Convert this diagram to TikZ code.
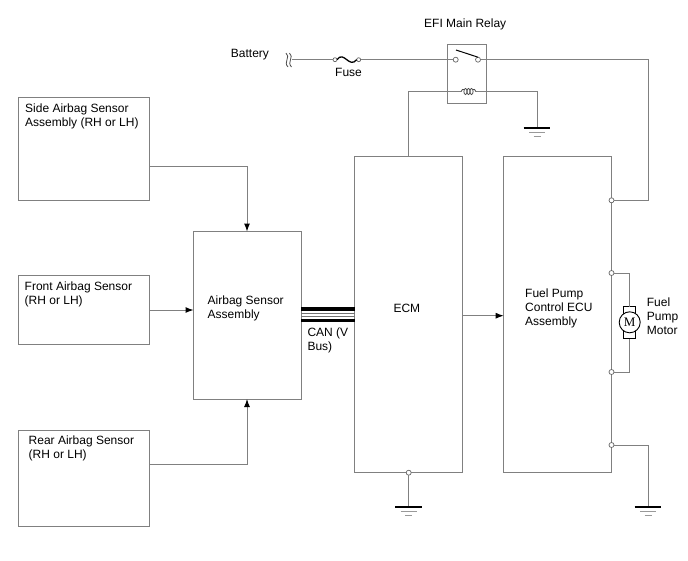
\documentclass[tikz,border=0pt]{standalone}
\usepackage{fontspec}
\setmainfont{Liberation Sans}
\newfontfamily\motorfont{Liberation Serif}
\usetikzlibrary{arrows.meta,calc}
\tikzset{
         wire/.style={draw=black!50,line width=1pt},
         sig/.style={wire,-{Latex[black,length=8pt,width=6pt]}},
         block/.style={draw=black!50,line width=1pt,fill=white,inner sep=0pt,outer sep=0pt,anchor=north west},
         lab/.style={inner sep=0pt,align=left,anchor=north west,font=\fontsize{12}{14}\selectfont},
         pin/.style={circle,draw=black!60,fill=white,line width=0.7pt,inner sep=0pt,outer sep=0pt,minimum size=5pt},
         brush/.style={draw=black,fill=white,line width=0.9pt,inner sep=0pt,outer sep=0pt,minimum width=12pt,minimum height=8pt},
         bar/.style={line width=1.3pt,black},
         gbar/.style={line width=1pt,black!40},
         can/.style={line width=3.2pt,black},
         canthin/.style={line width=0.7pt,black!55}
        }
\begin{document}
\begin{tikzpicture}[x=1pt,y=-1pt]
\useasboundingbox (0,0) rectangle (688,560);

%%% Boxes on left of page

\node[block,minimum width=130.5pt,minimum height=102.5pt] (side) at (18.5,97.5) {};
\node[block,minimum width=130.5pt,minimum height=68.5pt] (front) at (18.5,275.5) {};
\node[block,minimum width=130.5pt,minimum height=95.5pt] (rear) at (18.5,430.5) {};
\node[block,minimum width=107.5pt,minimum height=167.5pt] (airbag) at (193.5,231.5) {};
\node[lab] (sidelab) at (25,104) {Side Airbag Sensor\\Assembly (RH or LH)};
\node[lab] (frontlab) at (24.5,281.5) {Front Airbag Sensor\\(RH or LH)};
\node[lab] (rearlab) at (28.5,436) {Rear Airbag Sensor\\(RH or LH)};
\node[lab] (airbaglab) at (207.5,296) {Airbag Sensor\\Assembly};

%%% Boxes on right of page

\node[block,minimum width=107.5pt,minimum height=316pt] (ecm) at (354.7,156.7) {};
\node[block,minimum width=107.8pt,minimum height=316pt] (ecu) at (503.7,156.7) {};
\node[lab] (ecmlab) at (393.3,304) {ECM};
\node[lab] (eculab) at (525,289) {Fuel Pump\\Control ECU\\Assembly};
\node[lab] (motorlab) at (646.7,298) {Fuel\\Pump\\Motor};
\node[lab] (canlab) at (307.3,328) {CAN (V\\Bus)};

%%% Relay and fuse

\node[block,minimum width=38.3pt,minimum height=59pt] (relay) at (447.7,44) {};
\node[lab] (relaylab) at (424,19) {EFI Main Relay};
\node[lab] (batlab) at (230.7,49) {Battery};
\node[lab] (fuselab) at (335,68) {Fuse};
\node[pin,minimum size=4pt] (fusea) at (335,59.7) {};
\node[pin,minimum size=4pt] (fuseb) at (358.7,59.7) {};
\node[pin] (swa) at (455.7,59.7) {};
\node[pin] (swb) at (478,59.7) {};
\coordinate (batt) at (291.7,59.7);
\coordinate (coila) at (461,91.7);
\coordinate (coilb) at (476,91.7);
\coordinate (relayl) at (408.3,91.7);
\coordinate (gndcorner) at (537,91.7);
\coordinate (gnda) at (537,128);
\coordinate (gndb) at (408.7,507);
\coordinate (gndc) at (648,507);
\coordinate (topr) at (648,59.7);
\coordinate (midr) at (648,200.3);
\coordinate (lowr) at (648,445);

% Pins on ECM and ECU

\node[pin] (ecmg) at (408.7,472.7) {};
\node[pin] (ecua) at (611.5,200.3) {};
\node[pin] (ecub) at (611.5,273) {};
\node[pin] (ecuc) at (611.5,372) {};
\node[pin] (ecud) at (611.5,445) {};

% Motor

\node[brush] (brushu) at (629.7,310.7) {};
\node[brush] (brushd) at (629.7,334.7) {};
\node[circle,draw=black,fill=white,line width=0.9pt,inner sep=0pt,outer sep=0pt,minimum size=21pt,font=\motorfont\fontsize{13}{13}\selectfont] (motor) at (629.7,322.3) {M};

%%% Wiring

\draw[wire] (batt) -- (fusea);
\draw[wire] (fuseb) -- (swa);
\draw[wire] (swb) -- (topr) -- (midr) -- (ecua);
\draw[wire] (coila) -- (relayl) -- (relayl |- ecm.north);
\draw[wire] (coilb) -- (gndcorner) -- (gnda);
\draw[wire] (ecmg) -- (gndb);
\draw[wire] (ecud) -- (lowr) -- (gndc);
\draw[wire] (ecub) -| (brushu);
\draw[wire] (ecuc) -| (brushd);
\draw[sig] (side.east |- 0,166) -- (247,166) -- (247,231.5);
\draw[sig] (front.east |- 0,310) -- (airbag.west |- 0,310);
\draw[sig] (rear.east |- 0,464.7) -- (247,464.7) -- (247,399);
\draw[sig] (ecm.east |- 0,315.7) -- (ecu.west |- 0,315.7);

% CAN bus

\draw[can] (airbag.east |- 0,309) -- (ecm.west |- 0,309);
\draw[can] (airbag.east |- 0,320.7) -- (ecm.west |- 0,320.7);
\draw[canthin] (airbag.east |- 0,313.3) -- (ecm.west |- 0,313.3);
\draw[canthin] (airbag.east |- 0,316.3) -- (ecm.west |- 0,316.3);

% Battery break, fuse, switch, coil

\draw[line width=0.8pt,black!70] (286,53) .. controls (291,57) and (283,62) .. (288,67);
\draw[line width=0.8pt,black!70] (289.5,53) .. controls (294.5,57) and (286.5,62) .. (291.5,67);
\draw[line width=1.3pt,black] (fusea.east) .. controls (344,50) and (349,69) .. (fuseb.west);
\draw[line width=1pt,black] (456,50) -- (swb.north);
\draw[line width=0.8pt,black!70] (coila) .. controls (462,89) and (463,89) .. (464,89.5);
\draw[line width=0.8pt,black!70] (473,89.5) .. controls (474,89) and (475,89) .. (coilb);
\foreach \cx in {465.5,468.5,471.5}
 \draw[line width=0.8pt,black!70] (\cx,91.5) ellipse (1.6pt and 3pt);

% Grounds

\foreach \g in {gnda,gndb,gndc}
 {
  \draw[bar] ($(\g)+(-13.3,0)$) -- ($(\g)+(13.3,0)$);
  \draw[gbar] ($(\g)+(-8,4.5)$) -- ($(\g)+(8,4.5)$);
  \draw[gbar] ($(\g)+(-3.5,8)$) -- ($(\g)+(3.5,8)$);
 }
\end{tikzpicture}
\end{document}
